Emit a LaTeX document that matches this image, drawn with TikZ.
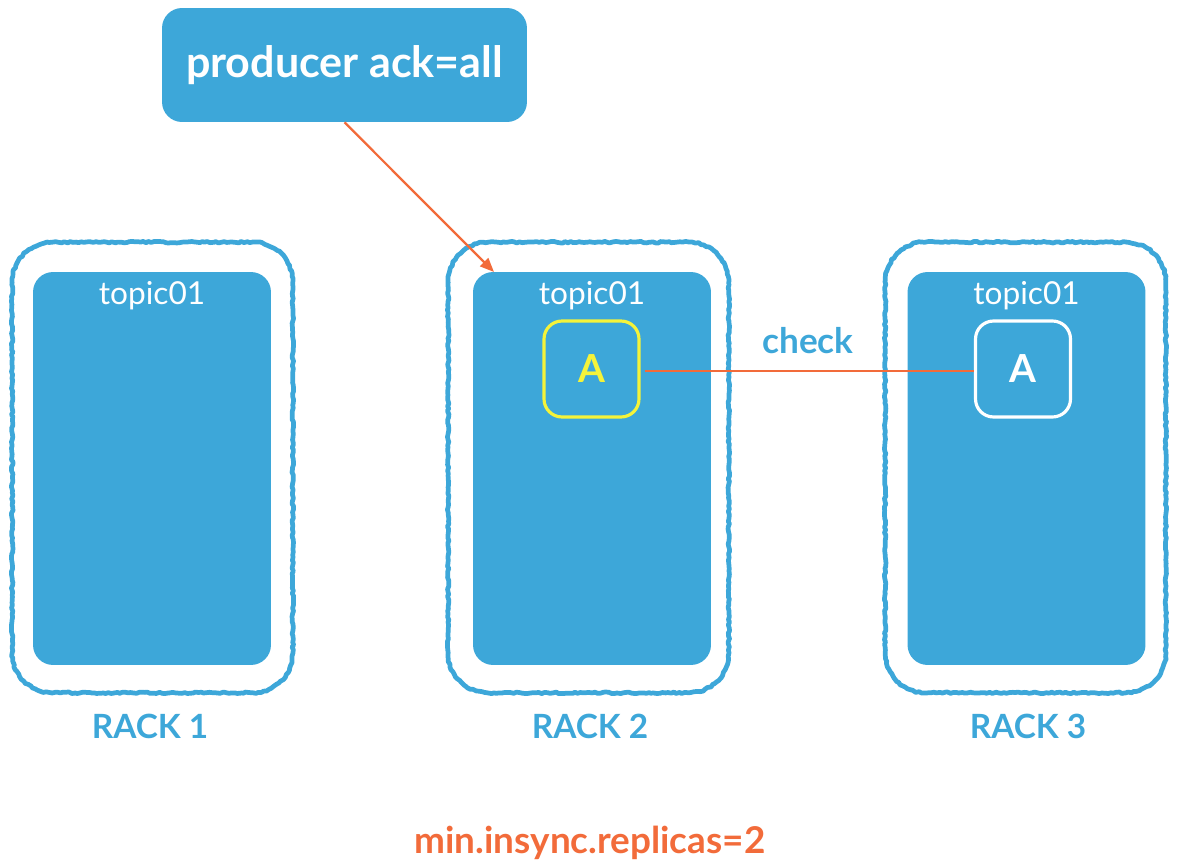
\documentclass[tikz,border=0pt]{standalone}
\usepackage{fontspec}
\setmainfont{Lato}
\usetikzlibrary{positioning}
\usetikzlibrary{arrows.meta}
\usetikzlibrary{decorations.pathmorphing}

\definecolor{rackblue}{HTML}{3DA7D9}
\definecolor{ackorange}{HTML}{F26B3A}
\definecolor{leaderyellow}{HTML}{F4F33A}

\tikzset{
	bluebox/.style = {fill = rackblue, rounded corners = 0.4cm, inner sep = 0pt},
	rackspace/.style = {minimum width = 5.6cm, minimum height = 9.0cm, inner sep = 0pt},
	rackedge/.style = {draw = rackblue, line width = 2.7pt, line join = round, line cap = round,
		decorate, decoration = {random steps, segment length = 1.6pt, amplitude = 0.45pt}},
	rackbox/.style = {bluebox, minimum width = 4.76cm, minimum height = 7.86cm},
	replica/.style = {draw, line width = 1.8pt, rounded corners = 0.36cm, minimum width = 1.9cm, minimum height = 1.92cm, font = \bfseries\fontsize{22}{26}\selectfont},
	racklabel/.style = {text = rackblue, font = \bfseries\fontsize{19}{23}\selectfont},
	topiclabel/.style = {text = white, font = \fontsize{18}{22}\selectfont}
}

\begin{document}
\begin{tikzpicture}[x = 0.02cm, y = -0.02cm]
	\useasboundingbox (0, 0) rectangle (1180, 868);
	% producer
	\node [bluebox, minimum width = 7.3cm, minimum height = 2.28cm, text = white, font = \bfseries\fontsize{24.5}{28}\selectfont] (producer) at (344.5, 65) {producer ack=all};
	% racks
	\node [rackspace] (edge1) at (152.5, 467.5) {};
	\node [rackspace] (edge2) at (588.5, 467.5) {};
	\node [rackspace] (edge3) at (1025.5, 467.5) {};
	\foreach \r in {1, 2, 3}
		\draw [rackedge] (edge\r.north west) [rounded corners = 0.8cm] rectangle (edge\r.south east) [sharp corners];
	\node [rackbox] (rack1) at (152, 468.5) {};
	\node [rackbox] (rack2) at (592, 468.5) {};
	\node [rackbox] (rack3) at (1026.5, 468.5) {};
	\node [topiclabel] (topic1) at (152, 296) {topic01};
	\node [topiclabel] (topic2) at (592, 296) {topic01};
	\node [topiclabel] (topic3) at (1026.5, 296) {topic01};
	\node [racklabel] (label1) at (150, 726) {RACK 1};
	\node [racklabel] (label2) at (590, 726) {RACK 2};
	\node [racklabel] (label3) at (1028, 726) {RACK 3};
	% replicas
	\node [replica, draw = leaderyellow, text = leaderyellow] (leader) at (591.5, 369) {A};
	\node [replica, draw = white, text = white] (follower) at (1023, 369) {A};
	\draw [ackorange, line width = 1.5pt] (leader.east) ++(4, 2) coordinate (checkstart) -- (checkstart -| follower.west);
	\node [text = rackblue, font = \bfseries\fontsize{20}{24}\selectfont] (check) at (808, 341) {check};
	% write path
	\coordinate (hit) at (494, 272);
	\draw [ackorange, line width = 1.3pt, -{Triangle[length = 8pt, width = 6.5pt]}] (producer.south) -- (hit);
	\node [text = ackorange, font = \bfseries\fontsize{21}{25}\selectfont] (minisr) at (590, 843) {min.insync.replicas=2};
\end{tikzpicture}
\end{document}
